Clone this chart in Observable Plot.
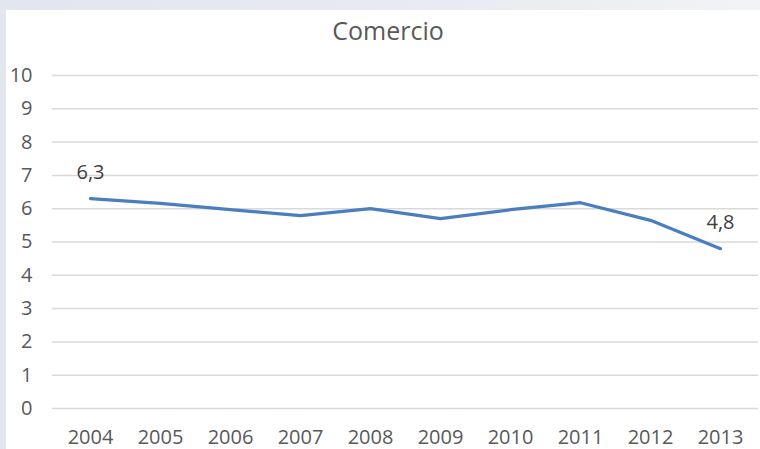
<!DOCTYPE html>
<html>
<head>
<meta charset="utf-8">
<script src="https://cdn.jsdelivr.net/npm/d3@7"></script>
<script src="https://cdn.jsdelivr.net/npm/@observablehq/plot@0.6"></script>
<style>
  html, body { margin: 0; padding: 0; }
  body { width: 760px; height: 449px; background: linear-gradient(90deg, #e2e6ee, #e8ebf1 60%, #f1f3f7); position: relative; overflow: hidden; font-family: "Open Sans", sans-serif; }
  #card { position: absolute; left: 6px; top: 10px; width: 754px; height: 439px; background: #fff; }
  #title { position: absolute; left: 5px; top: 5px; width: 754px; text-align: center; font-size: 25px; color: #595959; line-height: 30px; }
  #chart { position: absolute; left: 0; top: 0; }
</style>
</head>
<body>
<div id="card">
  <div id="chart"></div>
  <div id="title">Comercio</div>
</div>
<script>
const years = ["2004", "2005", "2006", "2007", "2008", "2009", "2010", "2011", "2012", "2013"];
const values = [6.3, 6.16, 5.97, 5.79, 6.0, 5.7, 5.97, 6.18, 5.65, 4.8];
const dataLabels = ["6,3", "", "", "", "", "", "", "", "", "4,8"];
const yTicks = [0, 1, 2, 3, 4, 5, 6, 7, 8, 9, 10];

const data = years.map((y, i) => ({year: y, value: values[i], label: dataLabels[i]}));

const chart = Plot.plot({
  width: 754,
  height: 439,
  marginLeft: 46,
  marginRight: 2,
  marginTop: 65,
  marginBottom: 41,
  style: {fontFamily: "Open Sans", fontSize: "20px", color: "#595959", background: "transparent", overflow: "visible"},
  x: {type: "point", domain: years, padding: 0.5},
  y: {domain: [0, 10]},
  marks: [
    Plot.ruleY(yTicks, {stroke: "#d9d9d9", strokeWidth: 1.5}),
    Plot.axisY({ticks: yTicks, tickSize: 0, tickPadding: 20, label: null, fontSize: 20}),
    Plot.axisX({tickSize: 0, tickPadding: 21, label: null, fontSize: 20}),
    Plot.lineY(data, {x: "year", y: "value", stroke: "#4a7ebf", strokeWidth: 3.2, curve: "linear"}),
    Plot.text(data.filter(d => d.label), {x: "year", y: "value", text: "label", dy: -26, fontSize: 20, fill: "#404040"})
  ]
});
document.getElementById("chart").appendChild(chart);
</script>
</body>
</html>
